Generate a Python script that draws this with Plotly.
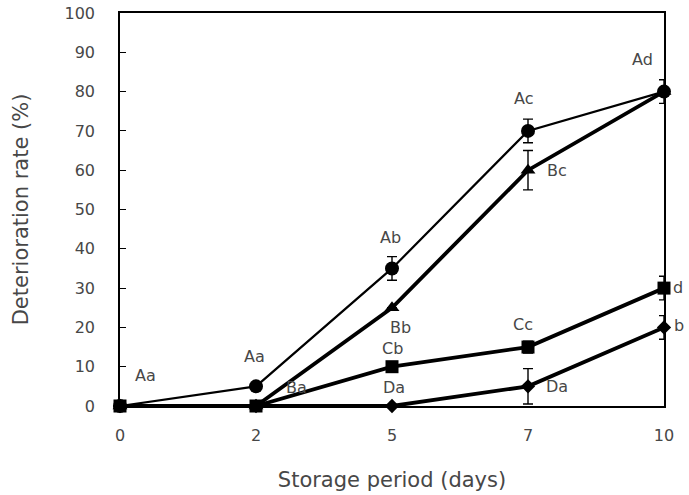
import plotly.graph_objects as go

days = ["0", "2", "5", "7", "10"]
circle_vals = [0, 5, 35, 70, 80]
circle_err = [0, 0, 3, 3, 3]
triangle_vals = [0, 0, 25, 60, 80]
triangle_err = [0, 0, 0, 5, 0]
square_vals = [0, 0, 10, 15, 30]
square_err = [0, 0, 0, 1.5, 3]
diamond_vals = [0, 0, 0, 5, 20]
diamond_err = [0, 0, 0, 4.5, 3]

circle_labels = ["Aa", "Aa", "Ab", "Ac", "Ad"]
triangle_labels = ["", "Ba", "Bb", "Bc", ""]
square_labels = ["", "", "Cb", "Cc", "d"]
diamond_labels = ["", "", "Da", "Da", "b"]

font_color = "#474747"
fig = go.Figure()

def add_series(vals, err, symbol, size, lw):
    fig.add_trace(go.Scatter(
        x=days, y=vals, mode="lines+markers",
        line=dict(color="black", width=lw),
        marker=dict(symbol=symbol, size=size, color="black"),
        error_y=dict(type="data", array=err, visible=True, color="black",
                     thickness=1.4, width=5),
        cliponaxis=False, showlegend=False))

add_series(diamond_vals, diamond_err, "diamond", 11, 3.8)
add_series(square_vals, square_err, "square", 13, 3.8)
add_series(triangle_vals, triangle_err, "triangle-up", 13, 3.8)
add_series(circle_vals, circle_err, "circle", 14, 2.2)

# label annotations: (series labels, values, x shift px, y shift px)
def add_labels(labels, vals, shifts):
    for i, (lab, v, (dx, dy)) in enumerate(zip(labels, vals, shifts)):
        if lab:
            fig.add_annotation(x=i, y=v, text=lab, showarrow=False,
                               xshift=dx, yshift=dy,
                               font=dict(family="DejaVu Sans", size=16, color=font_color))

add_labels(circle_labels, circle_vals,
           [(25, 31), (-2, 30), (-2, 31), (-5, 32), (-22, 32)])
add_labels(triangle_labels, triangle_vals,
           [(0, 0), (40, 19), (8, -20), (29, 0), (0, 0)])
add_labels(square_labels, square_vals,
           [(0, 0), (0, 0), (0, 18), (-5, 23), (14, 1)])
add_labels(diamond_labels, diamond_vals,
           [(0, 0), (0, 0), (2, 19), (29, 0), (15, 2)])

fig.update_layout(
    width=689, height=495,
    margin=dict(l=120, r=25, t=13, b=89, autoexpand=False),
    paper_bgcolor="white", plot_bgcolor="white",
    font=dict(family="DejaVu Sans", size=16, color=font_color),
    xaxis=dict(type="category", range=[0, 4], showgrid=False, zeroline=False,
               showline=True, linecolor="black", linewidth=1.5, mirror=True,
               ticks="", ticklabelstandoff=14, automargin=False,
               title=dict(text="Storage period (days)", standoff=28,
                          font=dict(size=21, color=font_color))),
    yaxis=dict(range=[0, 100], tickvals=list(range(0, 101, 10)), showgrid=False,
               zeroline=False, showline=True, linecolor="black", linewidth=1.5,
               mirror=True, ticks="inside", ticklen=6, tickcolor="black",
               ticklabelstandoff=20, automargin=False,
               title=dict(text="Deterioration rate (%)", standoff=30,
                          font=dict(size=21, color=font_color))),
)

fig.write_html("out.html")
